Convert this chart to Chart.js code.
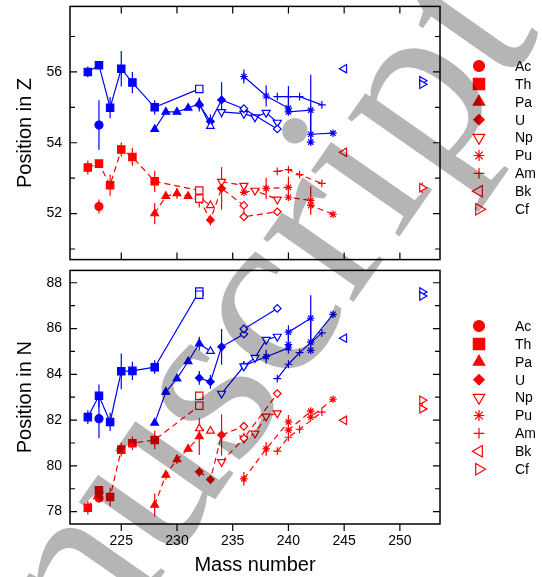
<!DOCTYPE html>
<html>
<head>
<meta charset="utf-8">
<script src="https://cdn.jsdelivr.net/npm/chart.js@4.4.0/dist/chart.umd.min.js"></script>
<style>
    html, body { margin: 0; padding: 0; background: #fff; }
    #wrap { position: relative; width: 542px; height: 577px; overflow: hidden; }
    #topBox { position: absolute; left: 0; top: 0; }
    #botBox { position: absolute; left: 0; top: 264px; }
    #mark { position: absolute; left: 0; top: 0; pointer-events: none; }
</style>
</head>
<body>
<div id="wrap">
    <canvas id="topBox" width="542" height="266"></canvas>
    <canvas id="botBox" width="542" height="313"></canvas>
    <canvas id="mark" width="542" height="577"></canvas>
</div>
<script>
// Tick labels
const massTicks = [225, 230, 235, 240, 245, 250];
const zTicks = [52, 54, 56];
const nTicks = [78, 80, 82, 84, 86, 88];
const elements = ['Ac', 'Th', 'Pa', 'U', 'Np', 'Pu', 'Am', 'Bk', 'Cf'];

// Points: [mass number, position, error, open marker]
// --- Position in Z, blue (solid) ---
const zAcBlue = [[223, 54.50, 0.70, 0]];
const zThBlue = [[222, 56.00, 0.15, 0], [223, 56.19, 0.05, 0], [224, 54.99, 0.30, 0], [225, 56.09, 0.50, 0], [226, 55.70, 0.30, 0], [228, 55.00, 0.20, 0], [232, 55.52, 0, 1]];
const zPaBlue = [[228, 54.38, 0, 0], [229, 54.87, 0, 0], [230, 54.87, 0, 0], [231, 54.98, 0, 0], [232, 55.10, 0.15, 0], [233, 54.47, 0, 1]];
const zUBlue = [[232, 55.08, 0.20, 0], [233, 54.60, 0.20, 0], [234, 55.21, 0.50, 0], [236, 54.96, 0, 1], [239, 54.39, 0, 1]];
const zNpBlue = [[234, 54.87, 0.10, 1], [236, 54.82, 0, 1], [237, 54.72, 0, 1], [238, 54.85, 0, 1], [239, 54.57, 0, 1]];
const zPuBlue = [[236, 55.87, 0.20, 0], [238, 55.32, 0.30, 0], [240, 54.98, 0.20, 0], [240, 54.87, 0, 0], [242, 54.92, 1.00, 0], [242, 54.02, 0, 0], [242, 54.24, 0, 0], [244, 54.27, 0, 0]];
const zAmBlue = [[239, 55.30, 0, 0], [240, 55.30, 0.30, 0], [241, 55.30, 0, 0], [243, 55.07, 0, 0]];
const zBkBlue = [[245, 56.09, 0, 1]];
const zCfBlue = [[252, 55.75, 0, 1], [252, 55.65, 0, 1]];
// --- Position in Z, red (dashed) ---
const zAcRed = [[223, 52.20, 0.20, 0]];
const zThRed = [[222, 53.30, 0.20, 0], [223, 53.41, 0.10, 0], [224, 52.80, 0.30, 0], [225, 53.81, 0.20, 0], [226, 53.60, 0.25, 0], [228, 52.91, 0.30, 0], [232, 52.65, 0, 1], [232, 52.42, 0, 1]];
const zPaRed = [[228, 52.00, 0.30, 0], [229, 52.49, 0, 0], [230, 52.57, 0.15, 0], [231, 52.49, 0, 0], [232, 52.46, 0, 0], [233, 52.23, 0, 1]];
const zURed = [[232, 52.42, 0.25, 0], [233, 51.82, 0.15, 0], [234, 52.71, 0.60, 0], [236, 52.23, 0, 1], [236, 51.91, 0, 1], [239, 52.05, 0, 1]];
const zNpRed = [[234, 52.90, 0.10, 1], [236, 52.79, 0, 1], [237, 52.65, 0, 1], [239, 52.40, 0, 1]];
const zPuRed = [[236, 52.60, 0, 0], [238, 52.71, 0.30, 0], [240, 52.74, 0.30, 0], [240, 52.46, 0, 0], [242, 52.37, 0.40, 0], [242, 52.23, 0, 0], [244, 51.98, 0, 0]];
const zAmRed = [[239, 53.19, 0, 0], [240, 53.24, 0, 0], [241, 53.10, 0, 0], [243, 52.85, 0, 0]];
const zBkRed = [[245, 53.73, 0, 1]];
const zCfRed = [[252, 52.73, 0.15, 1]];

// --- Position in N, blue (solid) ---
const nAcBlue = [[223, 82.06, 0.85, 0]];
const nThBlue = [[222, 82.13, 0.30, 0], [223, 83.06, 0.50, 0], [224, 81.92, 0.40, 0], [225, 84.13, 0.78, 0], [226, 84.15, 0.40, 0], [228, 84.31, 0.30, 0], [232, 87.62, 0, 1], [232, 87.48, 0, 1]];
const nPaBlue = [[228, 81.88, 0, 0], [229, 83.23, 0, 0], [230, 83.81, 0, 0], [231, 84.56, 0, 0], [232, 85.34, 0.30, 0], [233, 85.01, 0, 1]];
const nUBlue = [[232, 83.84, 0.30, 0], [233, 83.67, 0.30, 0], [234, 85.20, 0.78, 0], [236, 85.76, 0, 1], [236, 85.98, 0, 1], [239, 86.88, 0, 1]];
const nNpBlue = [[234, 83.16, 0, 1], [236, 84.35, 0, 1], [237, 84.73, 0, 1], [238, 85.51, 0, 1], [239, 85.65, 0, 1]];
const nPuBlue = [[236, 84.38, 0.20, 0], [238, 84.77, 0.30, 0], [240, 85.15, 0, 0], [240, 85.30, 0.40, 0], [240, 85.84, 0.30, 0], [242, 86.45, 1.00, 0], [242, 85.05, 0, 0], [242, 85.41, 0, 0], [244, 86.62, 0, 0]];
const nAmBlue = [[239, 83.81, 0, 0], [240, 84.44, 0, 0], [241, 84.95, 0, 0], [243, 85.81, 0, 0]];
const nBkBlue = [[245, 85.58, 0, 1]];
const nCfBlue = [[252, 87.60, 0, 1], [252, 87.42, 0, 1]];
// --- Position in N, red (dashed) ---
const nAcRed = [[223, 78.60, 0.20, 0]];
const nThRed = [[222, 78.17, 0.30, 0], [223, 78.93, 0.15, 0], [224, 78.64, 0.40, 0], [225, 80.71, 0.30, 0], [226, 80.99, 0.30, 0], [228, 81.13, 0.40, 0], [232, 82.63, 0, 1], [232, 83.06, 0, 1]];
const nPaRed = [[228, 78.29, 0.50, 0], [229, 79.60, 0.20, 0], [230, 80.28, 0.20, 0], [231, 80.74, 0, 0], [232, 81.28, 0.80, 0], [232, 81.63, 0, 1], [233, 81.53, 0, 1]];
const nURed = [[232, 79.74, 0.20, 0], [233, 79.40, 0.20, 0], [234, 81.35, 0.90, 0], [236, 81.73, 0, 1], [236, 81.20, 0.20, 1], [239, 83.16, 0, 1]];
const nNpRed = [[234, 80.17, 0, 1], [236, 81.20, 0, 1], [237, 81.42, 0, 1], [238, 82.16, 0, 1], [239, 82.30, 0, 1]];
const nPuRed = [[236, 79.43, 0.30, 0], [238, 80.74, 0.30, 0], [240, 81.92, 0.30, 0], [240, 81.56, 0, 0], [242, 82.39, 0, 0], [242, 82.13, 0, 0], [244, 82.91, 0, 0]];
const nAmRed = [[239, 80.64, 0, 0], [240, 81.25, 0, 0], [241, 81.60, 0, 0], [243, 82.35, 0, 0]];
const nBkRed = [[245, 81.99, 0, 1]];
const nCfRed = [[252, 82.87, 0, 1], [252, 82.49, 0, 1]];

const BLUE = '#0000ff';
const RED = '#ff0000';
const FONT = '"Liberation Sans", Arial, sans-serif';

// marker look per element (plot size r, legend size lr)
const markStyle = {
    Ac: { style: 'circle', r: 4.0, lr: 5.5, rot: 0, open: false },
    Th: { style: 'rect', r: 5.2, lr: 8.0, rot: 0, open: false },
    Pa: { style: 'triangle', r: 4.4, lr: 6.6, rot: 0, open: false },
    U:  { style: 'rectRot', r: 3.8, lr: 5.2, rot: 0, open: false },
    Np: { style: 'triangle', r: 4.6, lr: 6.6, rot: 180, open: true },
    Pu: { style: 'star', r: 3.8, lr: 5.4, rot: 0, open: true },
    Am: { style: 'cross', r: 3.9, lr: 5.4, rot: 0, open: true },
    Bk: { style: 'triangle', r: 4.8, lr: 6.6, rot: -90, open: true },
    Cf: { style: 'triangle', r: 4.8, lr: 6.6, rot: 90, open: true }
};

function series(pts, el, color, dashed) {
    const s = markStyle[el];
    return {
        label: el,
        data: pts.map(p => ({ x: p[0], y: p[1], e: p[2], o: p[3] })),
        showLine: true,
        tension: 0,
        borderColor: color,
        borderWidth: 1.2,
        borderDash: dashed ? [6, 4] : [],
        pointStyle: s.style,
        pointRadius: s.r,
        pointHoverRadius: s.r,
        pointRotation: s.rot,
        pointBorderColor: color,
        pointBorderWidth: 1.2,
        pointBackgroundColor: ctx => (s.open || (ctx.raw && ctx.raw.o)) ? '#ffffff' : color
    };
}

// vertical error bars under the markers
const errorBars = {
    id: 'errorBars',
    beforeDatasetsDraw(chart) {
        const { ctx, scales: { x, y } } = chart;
        ctx.save();
        ctx.lineWidth = 1.2;
        chart.data.datasets.forEach(ds => {
            ctx.strokeStyle = ds.borderColor;
            ds.data.forEach(p => {
                if (!p.e) return;
                const px = x.getPixelForValue(p.x);
                ctx.beginPath();
                ctx.moveTo(px, y.getPixelForValue(p.y - p.e));
                ctx.lineTo(px, y.getPixelForValue(p.y + p.e));
                ctx.stroke();
            });
        });
        ctx.restore();
    }
};

// frame with ticks on all sides
const frame = {
    id: 'frame',
    afterDraw(chart, args, opts) {
        const { ctx, chartArea: a, scales: { x, y } } = chart;
        ctx.save();
        ctx.strokeStyle = '#000';
        ctx.lineWidth = 1.5;
        ctx.strokeRect(a.left, a.top, a.right - a.left, a.bottom - a.top);
        ctx.lineWidth = 1.2;
        ctx.beginPath();
        for (let v = Math.ceil(y.min); v <= y.max; v++) {
            const py = y.getPixelForValue(v);
            const len = (v % 2 === 0) ? 7 : 5;
            ctx.moveTo(a.left, py); ctx.lineTo(a.left + len, py);
            ctx.moveTo(a.right, py); ctx.lineTo(a.right - len, py);
        }
        massTicks.forEach(m => {
            const px = x.getPixelForValue(m);
            if (opts.topTicks) { ctx.moveTo(px, a.top); ctx.lineTo(px, a.top + 7); }
            if (opts.bottomUp) { ctx.moveTo(px, a.bottom); ctx.lineTo(px, a.bottom - 7); }
            if (opts.bottomDown) { ctx.moveTo(px, a.bottom); ctx.lineTo(px, a.bottom + 7); }
        });
        ctx.stroke();
        ctx.restore();
    }
};

// legend on the right, red markers
const sideLegend = {
    id: 'sideLegend',
    afterDraw(chart, args, opts) {
        const { ctx } = chart;
        ctx.save();
        ctx.font = '14px ' + FONT;
        ctx.textBaseline = 'middle';
        ctx.textAlign = 'left';
        elements.forEach((el, i) => {
            const s = markStyle[el];
            const yy = opts.top + i * opts.step;
            ctx.strokeStyle = RED;
            ctx.fillStyle = s.open ? '#ffffff' : RED;
            ctx.lineWidth = 1.2;
            Chart.helpers.drawPoint(ctx, { pointStyle: s.style, radius: s.lr, rotation: s.rot, borderWidth: 1.2 }, opts.markX, yy);
            ctx.fillStyle = '#000';
            ctx.fillText(el, opts.textX, yy + 1);
        });
        ctx.restore();
    }
};

function makeChart(id, sets, yMin, yMax, yTickVals, yTitle, isBottom) {
    const scaleX = {
        type: 'linear',
        min: 220.4,
        max: 253.6,
        display: isBottom,
        afterBuildTicks: s => { s.ticks = massTicks.map(v => ({ value: v })); },
        afterFit: s => { s.height = isBottom ? 53 : 0; s.paddingLeft = 0; s.paddingRight = 0; },
        grid: { display: false, drawTicks: false },
        border: { display: false },
        ticks: { color: '#000', font: { family: FONT, size: 14 }, padding: 9, maxRotation: 0 },
        title: { display: true, text: 'Mass number', color: '#000', font: { family: FONT, size: 20 }, padding: { top: 0, bottom: 0 } }
    };
    return new Chart(document.getElementById(id), {
        type: 'scatter',
        data: { datasets: sets },
        options: {
            responsive: false,
            animation: false,
            events: [],
            layout: { padding: { top: isBottom ? 0 : 6, bottom: isBottom ? 0 : 2, left: 0, right: 102 } },
            plugins: {
                legend: { display: false },
                tooltip: { enabled: false },
                frame: { topTicks: !isBottom, bottomUp: !isBottom, bottomDown: isBottom },
                sideLegend: isBottom
                    ? { top: 62, step: 17.9, markX: 479, textX: 515 }
                    : { top: 66, step: 17.9, markX: 479, textX: 515 }
            },
            scales: {
                x: scaleX,
                y: {
                    type: 'linear',
                    min: yMin,
                    max: yMax,
                    afterBuildTicks: s => { s.ticks = yTickVals.map(v => ({ value: v })); },
                    afterFit: s => { s.width = 70; s.paddingTop = 0; s.paddingBottom = 0; },
                    grid: { display: false, drawTicks: false },
                    border: { display: false },
                    ticks: { color: '#000', font: { family: FONT, size: 14 }, padding: 8 },
                    title: { display: true, text: yTitle, color: '#000', font: { family: FONT, size: 20 }, padding: { top: 13, bottom: 0 } }
                }
            }
        },
        plugins: [errorBars, frame, sideLegend]
    });
}

const topSets = [
    series(zAcBlue, 'Ac', BLUE, false), series(zThBlue, 'Th', BLUE, false), series(zPaBlue, 'Pa', BLUE, false),
    series(zUBlue, 'U', BLUE, false), series(zNpBlue, 'Np', BLUE, false), series(zPuBlue, 'Pu', BLUE, false),
    series(zAmBlue, 'Am', BLUE, false), series(zBkBlue, 'Bk', BLUE, false), series(zCfBlue, 'Cf', BLUE, false),
    series(zAcRed, 'Ac', RED, true), series(zThRed, 'Th', RED, true), series(zPaRed, 'Pa', RED, true),
    series(zURed, 'U', RED, true), series(zNpRed, 'Np', RED, true), series(zPuRed, 'Pu', RED, true),
    series(zAmRed, 'Am', RED, true), series(zBkRed, 'Bk', RED, true), series(zCfRed, 'Cf', RED, true)
];
const botSets = [
    series(nAcBlue, 'Ac', BLUE, false), series(nThBlue, 'Th', BLUE, false), series(nPaBlue, 'Pa', BLUE, false),
    series(nUBlue, 'U', BLUE, false), series(nNpBlue, 'Np', BLUE, false), series(nPuBlue, 'Pu', BLUE, false),
    series(nAmBlue, 'Am', BLUE, false), series(nBkBlue, 'Bk', BLUE, false), series(nCfBlue, 'Cf', BLUE, false),
    series(nAcRed, 'Ac', RED, true), series(nThRed, 'Th', RED, true), series(nPaRed, 'Pa', RED, true),
    series(nURed, 'U', RED, true), series(nNpRed, 'Np', RED, true), series(nPuRed, 'Pu', RED, true),
    series(nAmRed, 'Am', RED, true), series(nBkRed, 'Bk', RED, true), series(nCfRed, 'Cf', RED, true)
];

makeChart('topBox', topSets, 50.7, 57.85, zTicks, 'Position in Z', false);
makeChart('botBox', botSets, 77.46, 88.54, nTicks, 'Position in N', true);

// grey watermark laid over the figure; the "c" is anchored near the middle
const wm = document.getElementById('mark').getContext('2d');
const wmSize = 240;
const wmAng = -55 * Math.PI / 180;
wm.font = wmSize + 'px "Liberation Serif", "Times New Roman", serif';
const alongC = wm.measureText('Manus').width + wm.measureText('c').width / 2;
const upC = 0.23 * wmSize;
const dir = [Math.cos(wmAng), Math.sin(wmAng)];
const upDir = [Math.sin(wmAng), -Math.cos(wmAng)];
const ox = 275 - alongC * dir[0] - upC * upDir[0];
const oy = 318 - alongC * dir[1] - upC * upDir[1];
wm.save();
wm.fillStyle = 'rgba(0,0,0,0.29)';
wm.translate(ox, oy);
wm.rotate(wmAng);
wm.fillText('Manuscript', 0, 0);
wm.restore();
</script>
</body>
</html>
